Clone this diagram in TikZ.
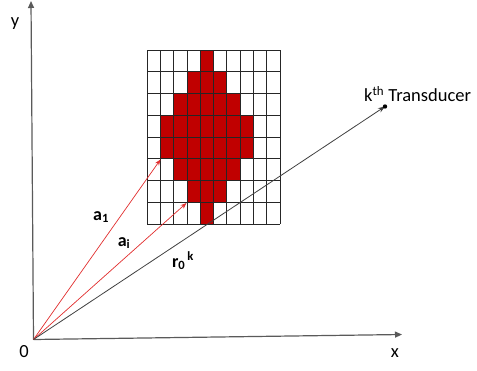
\documentclass[tikz,border=0pt]{standalone}
\usepackage{fontspec}
\setmainfont{Carlito}
\usetikzlibrary{arrows.meta}
\definecolor{cellred}{RGB}{192,0,0}
\definecolor{vecred}{RGB}{225,45,45}
\definecolor{axisgray}{RGB}{90,90,90}
\begin{document}
\begin{tikzpicture}[x=1pt,y=-1pt,
  axis/.style={draw=axisgray,line width=1.2pt,-{Triangle[length=7pt,width=6pt]}},
  vecarrow/.style={draw=vecred,line width=0.7pt,-{Stealth[length=6pt,width=4.5pt]}},
  rayline/.style={draw=black!75,line width=0.8pt,-{Stealth[length=7pt,width=5pt]}},
  gridline/.style={draw=black!85,line width=0.8pt},
  lbl/.style={font=\fontsize{18.5}{22}\selectfont,inner sep=0pt},
  vlbl/.style={font=\fontsize{18}{22}\selectfont\bfseries,inner sep=0pt}]
\useasboundingbox (0,0) rectangle (477,370);
% coordinates
\coordinate (O) at (33.5,339.5);
\coordinate (X) at (402,334.5);
\coordinate (Y) at (31,1);
\coordinate (T) at (385,106.5);
\coordinate (A1) at (160.5,159.5);
\coordinate (Ai) at (186.5,203);
% grid cells
\def\cw{13.3}\def\rh{21.75}
\foreach \r/\a/\b in {0/4/4,1/3/5,2/2/6,3/1/7,4/1/7,5/2/6,6/3/5,7/4/4}{
  \fill[cellred] (147+\a*\cw,50+\r*\rh) rectangle (147+\b*\cw+\cw,50+\r*\rh+\rh);
}
\foreach \i in {0,...,10}{\draw[gridline] (147+\i*\cw,50) -- (147+\i*\cw,224);}
\foreach \j in {0,...,8}{\draw[gridline] (147,50+\j*\rh) -- (280,50+\j*\rh);}
% axes
\draw[axis] (O) -- (X);
\draw[axis] (O) -- (Y);
% vectors
\draw[vecarrow] (O) -- (A1);
\draw[vecarrow] (O) -- (Ai);
\draw[rayline] (O) -- (T);
\fill[black] (T) circle (2.2pt);
% labels
\node[lbl] (ylab) at (15,24) {y};
\node[lbl] (olab) at (24,352) {0};
\node[lbl] (xlab) at (395,353) {x};
\node[lbl,anchor=west] (tlab) at (364,94) {k\textsuperscript{th} Transducer};
\node[vlbl] (a1lab) at (101,217) {a\textsubscript{1}};
\node[vlbl] (ailab) at (124,243) {a\textsubscript{i}};
\node[vlbl] (r0lab) at (183,261) {r\textsubscript{0}\textsuperscript{\,k}};
\end{tikzpicture}
\end{document}
